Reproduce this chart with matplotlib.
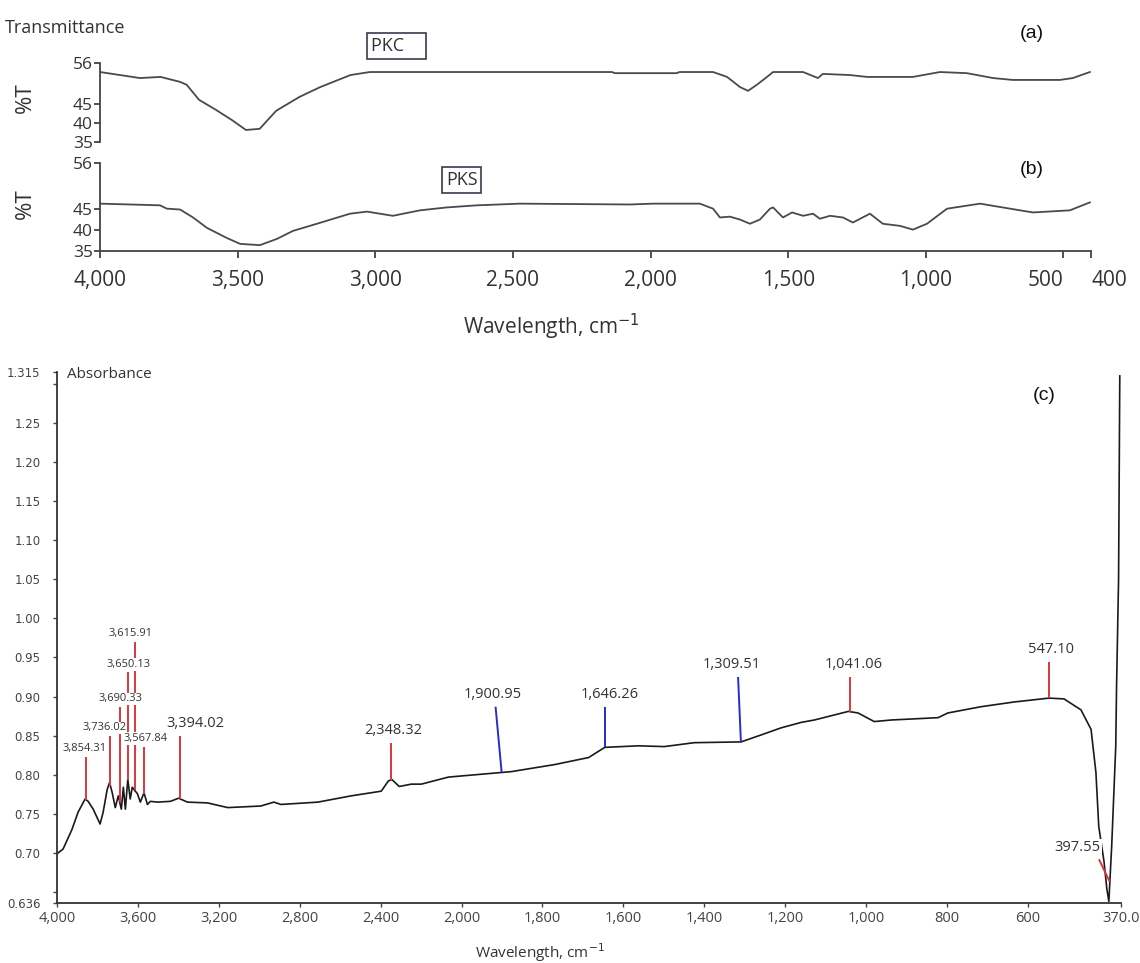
import numpy as np
import matplotlib
matplotlib.use('Agg')
import matplotlib.pyplot as plt
from matplotlib.ticker import FixedLocator, FuncFormatter

plt.rcParams['font.family'] = ['Open Sans', 'DejaVu Sans']

# (a) PKC transmittance
pkc_wn = [4000, 3855, 3780, 3710, 3685, 3640, 3580, 3520, 3470, 3420, 3360, 3275, 3200,
          3090, 3020, 2500, 2140, 2130, 1905, 1895, 1773, 1722, 1675, 1646, 1614, 1577,
          1555, 1446, 1392, 1374, 1276, 1214, 1047, 949, 851, 756, 684, 513, 466, 404]
pkc_t = [53.6, 52.0, 52.3, 51.0, 50.2, 46.2, 43.6, 40.8, 38.2, 38.5, 43.3, 47.0, 49.6,
         52.8, 53.6, 53.6, 53.6, 53.3, 53.3, 53.6, 53.6, 52.3, 49.6, 48.6, 50.2, 52.3,
         53.6, 53.6, 52.0, 53.1, 52.8, 52.3, 52.3, 53.6, 53.3, 52.0, 51.5, 51.5, 52.0, 53.6]

# (b) PKS transmittance
pks_wn = [4000, 3782, 3757, 3709, 3662, 3611, 3539, 3491, 3419, 3357, 3299, 3212, 3092,
          3030, 2936, 2838, 2740, 2631, 2474, 2075, 1991, 1821, 1773, 1748, 1712, 1675,
          1639, 1603, 1566, 1555, 1519, 1486, 1446, 1410, 1385, 1348, 1301, 1265, 1203,
          1156, 1094, 1047, 996, 923, 803, 694, 611, 477, 404]
pks_t = [46.3, 45.9, 45.1, 44.9, 43.0, 40.5, 38.1, 36.7, 36.4, 37.9, 39.8, 41.5, 43.9,
         44.4, 43.4, 44.7, 45.4, 45.9, 46.3, 46.1, 46.3, 46.3, 45.1, 43.0, 43.2, 42.5,
         41.5, 42.5, 45.1, 45.4, 43.0, 44.2, 43.4, 43.9, 42.7, 43.4, 43.0, 41.8, 43.9,
         41.5, 41.0, 40.1, 41.5, 45.1, 46.3, 45.1, 44.2, 44.7, 46.6]

# (c) absorbance
abs_wn = [4000, 3970, 3926, 3896, 3861, 3846, 3821, 3787, 3772, 3752, 3740, 3727, 3712,
          3697, 3682, 3672, 3662, 3650, 3638, 3628, 3616, 3603, 3588, 3570, 3553, 3538,
          3504, 3439, 3399, 3355, 3256, 3156, 2993, 2928, 2893, 2710, 2546, 2397, 2362,
          2345, 2308, 2248, 2199, 2065, 1877, 1770, 1686, 1646, 1563, 1499, 1425, 1309,
          1259, 1210, 1160, 1128, 1044, 1020, 980, 938, 822, 798, 716, 635, 548, 511,
          469, 444, 432, 425, 412, 405, 400, 393, 383, 381, 376, 373]
abs_a = [0.699, 0.705, 0.730, 0.752, 0.769, 0.766, 0.756, 0.737, 0.752, 0.781, 0.790,
         0.777, 0.758, 0.773, 0.756, 0.784, 0.756, 0.794, 0.769, 0.784, 0.780, 0.776,
         0.765, 0.777, 0.762, 0.766, 0.765, 0.766, 0.770, 0.765, 0.764, 0.758, 0.760,
         0.765, 0.762, 0.765, 0.773, 0.779, 0.792, 0.794, 0.785, 0.788, 0.788, 0.797,
         0.804, 0.813, 0.822, 0.835, 0.837, 0.836, 0.841, 0.842, 0.851, 0.860, 0.867,
         0.870, 0.881, 0.879, 0.868, 0.870, 0.873, 0.879, 0.887, 0.893, 0.898, 0.897,
         0.883, 0.858, 0.803, 0.734, 0.689, 0.654, 0.638, 0.709, 0.836, 0.912, 1.05, 1.31]

# peak picks
peak_wn = [3854.31, 3736.02, 3690.33, 3650.13, 3615.91, 3567.84, 3394.02, 2348.32,
           1900.95, 1646.26, 1309.51, 1041.06, 547.10, 397.55]
peak_top = [0.823, 0.850, 0.887, 0.931, 0.970, 0.836, 0.850, 0.841,
            0.887, 0.887, 0.925, 0.925, 0.944, 0.692]
peak_lean = [0, 0, 0, 0, 0, 0, 0, 0, 15, 0, 7, 0, 0, 27]
peak_blue = [False] * 8 + [True, True, True] + [False] * 3
label_wn = [3866, 3767, 3687, 3648, 3638, 3563, 3315, 2337, 1923, 1635, 1331, 1032, 543, 477]
label_small = [True] * 6 + [False] * 8

top_ticks = [4000, 3500, 3000, 2500, 2000, 1500, 1000, 500, 400]
t_ticks = [35, 40, 45, 56]
bot_ticks = [4000, 3600, 3200, 2800, 2400, 2000, 1800, 1600, 1400, 1200, 1000, 800, 600, 370]
abs_ticks = [0.636, 0.70, 0.75, 0.80, 0.85, 0.90, 0.95, 1.00, 1.05, 1.10, 1.15, 1.20, 1.25, 1.315]

W, H = 1140, 963
fig = plt.figure(figsize=(W / 100, H / 100), dpi=100)


def box(l, t, r, b):
    return [l / W, 1 - b / H, (r - l) / W, (b - t) / H]


gray = '#444444'
ax_a = fig.add_axes(box(100, 63, 1091, 142))
ax_b = fig.add_axes(box(100, 163, 1091, 251))

for ax, wn, t in [(ax_a, pkc_wn, pkc_t), (ax_b, pks_wn, pks_t)]:
    ax.plot(wn, t, color='#4a4a4a', lw=1.3)
    ax.set_xlim(4000, 400)
    ax.set_ylim(35, 56)
    ax.set_yticks(t_ticks)
    ax.tick_params(axis='y', direction='out', length=4, width=1.2, colors='#333333',
                   labelsize=12.5, pad=1)
    for s in ['top', 'right']:
        ax.spines[s].set_visible(False)
    ax.spines['left'].set_color(gray)
    ax.spines['left'].set_linewidth(1.3)
    ax.patch.set_alpha(0)

ax_a.spines['bottom'].set_visible(False)
ax_a.tick_params(axis='x', bottom=False, labelbottom=False)
ax_b.spines['bottom'].set_color(gray)
ax_b.spines['bottom'].set_linewidth(1.3)
ax_b.set_xticks(top_ticks)
ax_b.xaxis.set_major_formatter(FuncFormatter(lambda v, p: f'{v:,.0f}'))
ax_b.tick_params(axis='x', direction='out', length=5, width=1.2, colors='#333333',
                 labelsize=15, pad=9)
# 500 and 400 sit close together: push them apart like the original
xlabs = ax_b.get_xticklabels()
xlabs[-2].set_ha('right')
xlabs[-1].set_ha('left')

ax_a.text(0.2735, 1.215, 'PKC    ', transform=ax_a.transAxes, ha='left', va='center',
          fontsize=13, color='#333333',
          bbox=dict(boxstyle='square,pad=0.2', facecolor='white', edgecolor='#3a3a4a', lw=1.2))
ax_b.text(0.365, 0.807, 'PKS', transform=ax_b.transAxes, ha='center', va='center',
          fontsize=13, color='#333333',
          bbox=dict(boxstyle='square,pad=0.2', facecolor='white', edgecolor='#3a3a4a', lw=1.2))

fig.text(5 / W, 1 - 28 / H, 'Transmittance', ha='left', va='center', fontsize=13, color='#333333')
fig.text(25 / W, 1 - 98 / H, '%T', rotation=90, ha='center', va='center', fontsize=16, color='#333333')
fig.text(25 / W, 1 - 204 / H, '%T', rotation=90, ha='center', va='center', fontsize=16, color='#333333')
fig.text(551 / W, 1 - 327 / H, 'Wavelength, cm$^{-1}$', ha='center', va='center',
         fontsize=15, color='#333333')
fig.text(1032 / W, 1 - 33 / H, '(a)', ha='center', va='center', fontsize=14,
         family=['Liberation Sans', 'DejaVu Sans'], color='#111111')
fig.text(1032 / W, 1 - 170 / H, '(b)', ha='center', va='center', fontsize=14,
         family=['Liberation Sans', 'DejaVu Sans'], color='#111111')
fig.text(1044 / W, 1 - 395 / H, '(c)', ha='center', va='center', fontsize=14,
         family=['Liberation Sans', 'DejaVu Sans'], color='#111111')

# (c) absorbance, FTIR axis with half scale above 2000 cm-1


def fwd(w):
    w = np.asarray(w, dtype=float)
    return np.where(w > 2000, 2000 + (w - 2000) / 2, w)


def inv(t):
    t = np.asarray(t, dtype=float)
    return np.where(t > 2000, 2000 + (t - 2000) * 2, t)


ax_c = fig.add_axes(box(57, 372, 1121, 903))
ax_c.set_xscale('function', functions=(fwd, inv))
ax_c.plot(abs_wn, abs_a, color='#1a1a1a', lw=1.2, zorder=2)
ax_c.set_xlim(4000, 370)
ax_c.set_ylim(0.636, 1.315)
ax_c.xaxis.set_major_locator(FixedLocator(bot_ticks))
ax_c.xaxis.set_minor_locator(FixedLocator([]))
ax_c.xaxis.set_major_formatter(FuncFormatter(lambda v, p: '370.0' if v < 380 else f'{v:,.0f}'))
ax_c.yaxis.set_major_locator(FixedLocator(abs_ticks))
ax_c.yaxis.set_minor_locator(FixedLocator([0.65, 1.30]))
ax_c.yaxis.set_major_formatter(FuncFormatter(
    lambda v, p: f'{v:.3f}' if abs(v - 0.636) < 1e-6 or abs(v - 1.315) < 1e-6 else f'{v:.2f}'))
ax_c.tick_params(axis='x', direction='out', length=3, width=1, colors='#444444',
                 labelsize=10.5, pad=3)
ax_c.tick_params(axis='y', direction='out', length=3, width=1, colors='#444444', pad=9)
ax_c.tick_params(axis='y', which='minor', direction='out', length=3, width=1, colors='#444444')
for lab in ax_c.get_yticklabels():
    lab.set_family(['DejaVu Sans'])
    lab.set_fontsize(8.5)
for s in ['top', 'right']:
    ax_c.spines[s].set_visible(False)
for s in ['left', 'bottom']:
    ax_c.spines[s].set_color('#333333')
    ax_c.spines[s].set_linewidth(1.3)

wn_inc = np.array(abs_wn[::-1])
a_inc = np.array(abs_a[::-1])
for wn, top, lean, blue, lx, small in zip(peak_wn, peak_top, peak_lean, peak_blue,
                                          label_wn, label_small):
    base = np.interp(wn, wn_inc, a_inc)
    ax_c.plot([wn, wn + lean], [base, top], color='#2b2bc8' if blue else '#d8383c',
              lw=1.4, zorder=3, solid_capstyle='butt')
    ax_c.text(lx, top + (0.003 if small else 0.006), f'{wn:,.2f}', ha='center', va='bottom',
              fontsize=8 if small else 10.5, color='#333333', zorder=4,
              bbox=dict(facecolor='white', edgecolor='none', pad=0.6))

ax_c.text(0.0094, 0.996, 'Absorbance', transform=ax_c.transAxes, ha='left', va='center',
          fontsize=11, color='#333333')
fig.text(540 / W, 1 - 953 / H, 'Wavelength, cm$^{-1}$', ha='center', va='center',
         fontsize=11, color='#333333')

fig.savefig('out.png', dpi=100, facecolor='white')
